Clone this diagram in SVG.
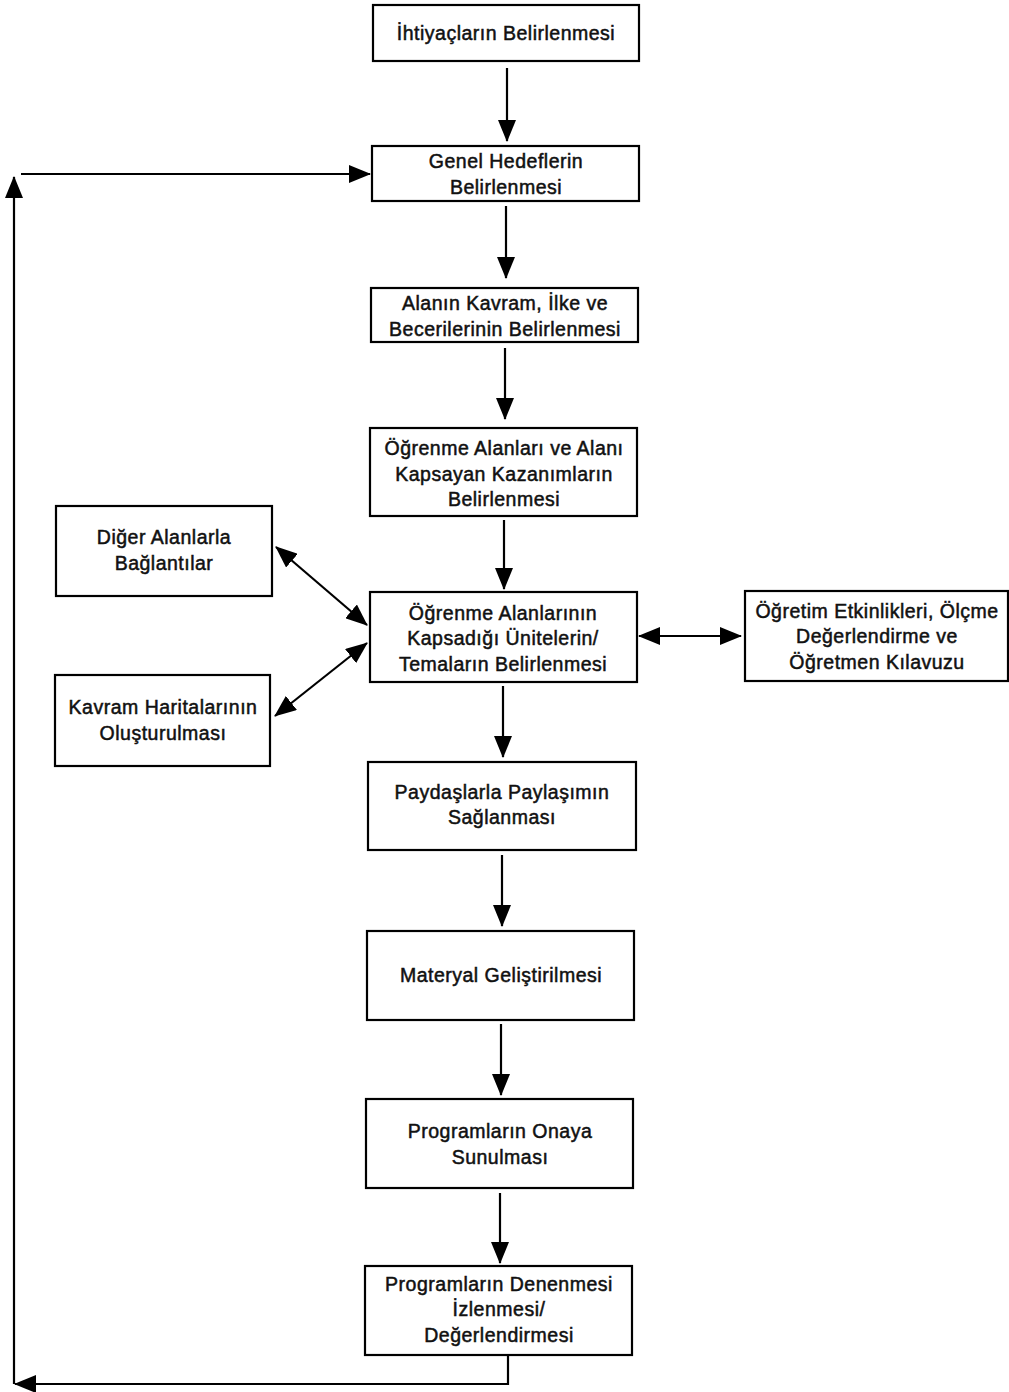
<svg xmlns="http://www.w3.org/2000/svg" width="1009" height="1392" viewBox="0 0 1009 1392">
<style>
.box{fill:#fff;stroke:#000;stroke-width:2.2}
.t{font-family:"Liberation Sans",Arial,sans-serif;font-size:19.5px;letter-spacing:0.5px;fill:#111;text-anchor:middle;stroke:#111;stroke-width:0.5}
.c{fill:none;stroke:#000;stroke-width:2.2}
</style>
<defs>
<marker id="ah" viewBox="0 0 22 18" refX="21" refY="9" markerWidth="22" markerHeight="18" markerUnits="userSpaceOnUse" orient="auto-start-reverse">
<path d="M0,0 L22,9 L0,18 Z" fill="#000"/>
</marker>
</defs>
<rect width="1009" height="1392" fill="#fff"/>
<g id="connectors">
<line class="c" x1="507" y1="68" x2="507" y2="141" marker-end="url(#ah)"/>
<line class="c" x1="506" y1="206" x2="506" y2="278" marker-end="url(#ah)"/>
<line class="c" x1="505" y1="348" x2="505" y2="419" marker-end="url(#ah)"/>
<line class="c" x1="504" y1="520" x2="504" y2="589" marker-end="url(#ah)"/>
<line class="c" x1="503" y1="686" x2="503" y2="757" marker-end="url(#ah)"/>
<line class="c" x1="502" y1="855" x2="502" y2="926" marker-end="url(#ah)"/>
<line class="c" x1="501" y1="1024" x2="501" y2="1095" marker-end="url(#ah)"/>
<line class="c" x1="500" y1="1193" x2="500" y2="1263" marker-end="url(#ah)"/>
<line class="c" x1="276" y1="547" x2="367" y2="625" marker-start="url(#ah)" marker-end="url(#ah)"/>
<line class="c" x1="275" y1="716" x2="367" y2="643" marker-start="url(#ah)" marker-end="url(#ah)"/>
<line class="c" x1="639" y1="636" x2="741" y2="636" marker-start="url(#ah)" marker-end="url(#ah)"/>
<polyline class="c" points="508,1356 508,1384 15,1384" marker-end="url(#ah)"/>
<line class="c" x1="14" y1="1384" x2="14" y2="177" marker-end="url(#ah)"/>
<line class="c" x1="21" y1="174" x2="370" y2="174" marker-end="url(#ah)"/>
</g>
<g id="n1"><rect class="box" x="373" y="5" width="266" height="56"/><text class="t" x="506" y="40">İhtiyaçların Belirlenmesi</text></g>
<g id="n2"><rect class="box" x="372" y="146" width="267" height="55"/><text class="t" x="506" y="168">Genel Hedeflerin</text><text class="t" x="506" y="194">Belirlenmesi</text></g>
<g id="n3"><rect class="box" x="371" y="288" width="267" height="54"/><text class="t" x="505" y="310">Alanın Kavram, İlke ve</text><text class="t" x="505" y="336">Becerilerinin Belirlenmesi</text></g>
<g id="n4"><rect class="box" x="370" y="428" width="267" height="88"/><text class="t" x="504" y="455">Öğrenme Alanları ve Alanı</text><text class="t" x="504" y="481">Kapsayan Kazanımların</text><text class="t" x="504" y="506">Belirlenmesi</text></g>
<g id="n5"><rect class="box" x="56" y="506" width="216" height="90"/><text class="t" x="164" y="544">Diğer Alanlarla</text><text class="t" x="164" y="570">Bağlantılar</text></g>
<g id="n6"><rect class="box" x="55" y="675" width="215" height="91"/><text class="t" x="163" y="714">Kavram Haritalarının</text><text class="t" x="163" y="740">Oluşturulması</text></g>
<g id="n7"><rect class="box" x="370" y="592" width="267" height="90"/><text class="t" x="503" y="620">Öğrenme Alanlarının</text><text class="t" x="503" y="645">Kapsadığı Ünitelerin/</text><text class="t" x="503" y="671">Temaların Belirlenmesi</text></g>
<g id="n8"><rect class="box" x="745" y="591" width="263" height="90"/><text class="t" x="877" y="618">Öğretim Etkinlikleri, Ölçme</text><text class="t" x="877" y="643">Değerlendirme ve</text><text class="t" x="877" y="669">Öğretmen Kılavuzu</text></g>
<g id="n9"><rect class="box" x="368" y="762" width="268" height="88"/><text class="t" x="502" y="799">Paydaşlarla Paylaşımın</text><text class="t" x="502" y="824">Sağlanması</text></g>
<g id="n10"><rect class="box" x="367" y="931" width="267" height="89"/><text class="t" x="501" y="982">Materyal Geliştirilmesi</text></g>
<g id="n11"><rect class="box" x="366" y="1099" width="267" height="89"/><text class="t" x="500" y="1138">Programların Onaya</text><text class="t" x="500" y="1164">Sunulması</text></g>
<g id="n12"><rect class="box" x="365" y="1266" width="267" height="89"/><text class="t" x="499" y="1291">Programların Denenmesi</text><text class="t" x="499" y="1316">İzlenmesi/</text><text class="t" x="499" y="1342">Değerlendirmesi</text></g>
</svg>
